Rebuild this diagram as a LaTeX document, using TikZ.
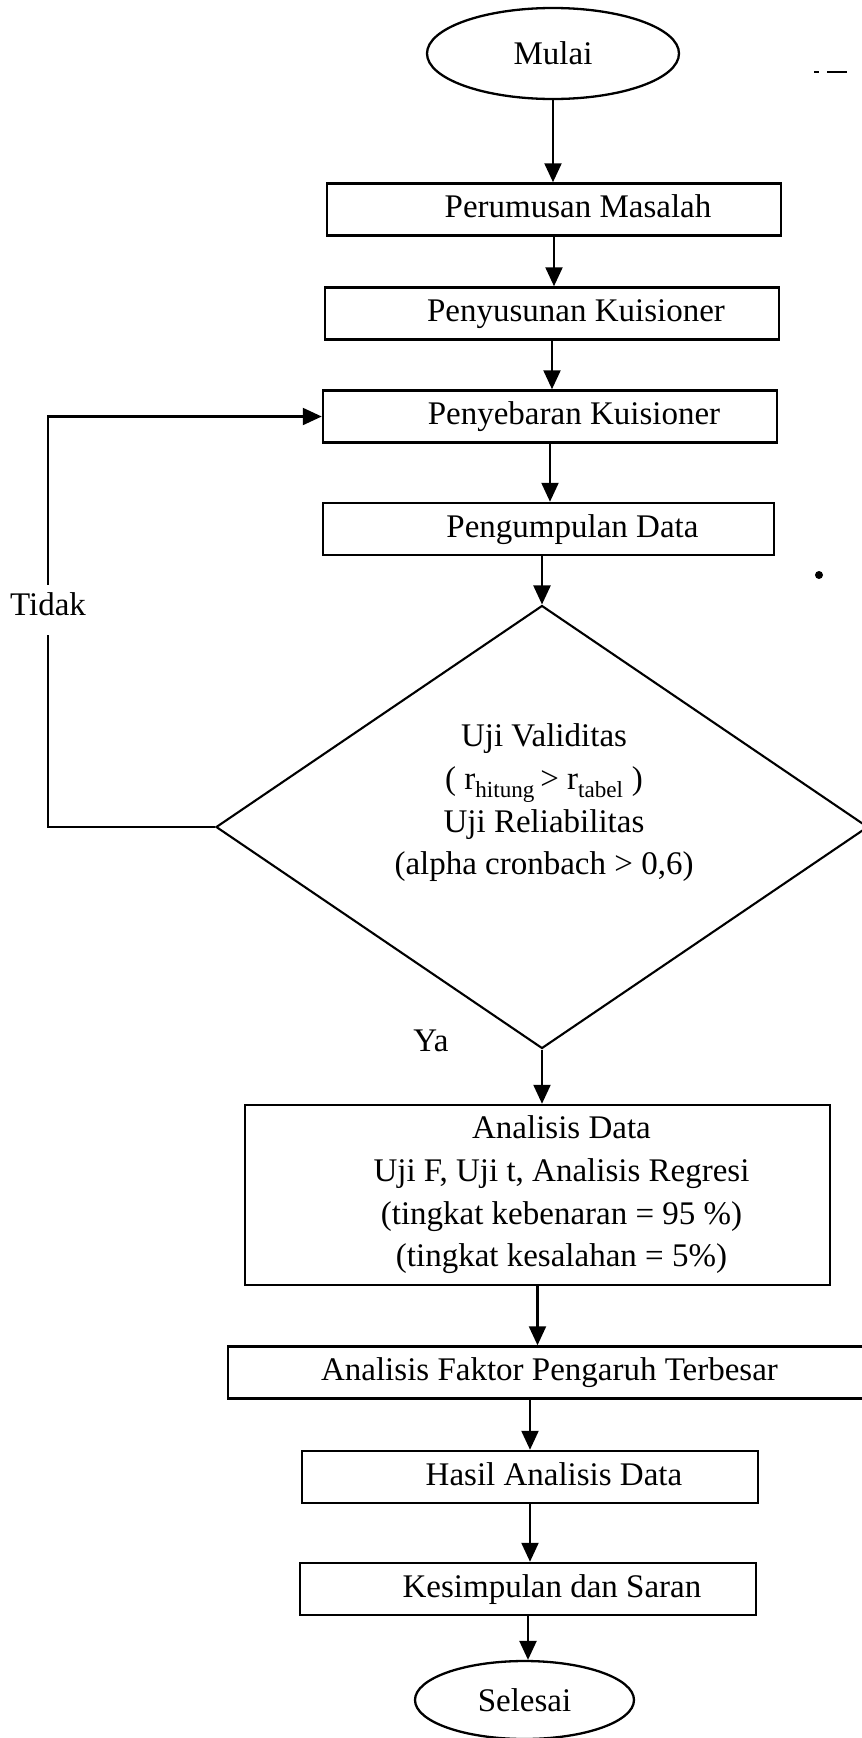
\documentclass[tikz,border=0pt]{standalone}
\usepackage{fontspec}
\setmainfont{Liberation Serif}
\usetikzlibrary{shapes.geometric,arrows.meta}
\newcommand{\pad}{\hspace*{48pt}}
\begin{document}
\begin{tikzpicture}[x=1pt,y=-1pt,
  every node/.style={font=\fontsize{33}{42.7}\selectfont},
  frame/.style={draw,rectangle,line width=2.5pt,inner sep=0pt},
  box/.style={frame,minimum height=52pt,text height=22pt,text depth=6pt},
  term/.style={draw,ellipse,line width=2.3pt,inner sep=0pt},
  flow/.style={line width=2.3pt,-{Triangle[length=19pt,width=17pt]}},
  plain/.style={line width=2.3pt}]
\useasboundingbox (0,0) rectangle (862,1738);

\node[term,minimum width=252pt,minimum height=91pt] (mulai) at (553,53.5) {Mulai};
\node[box,minimum width=454pt] (rumus) at (554,209.5) {\pad Perumusan Masalah};
\node[box,minimum width=454pt] (susun) at (552,313.5) {\pad Penyusunan Kuisioner};
\node[box,minimum width=454pt] (sebar) at (550,416.5) {\pad Penyebaran Kuisioner};
\node[box,minimum width=451pt] (kumpul) at (548.5,529) {\pad Pengumpulan Data};
\node[draw,diamond,line width=2.1pt,minimum width=652pt,minimum height=443pt,inner sep=0pt] (uji) at (542,827) {};
\node[align=center,inner sep=0pt] (ujitext) at (544,803) {Uji Validitas\\( r\textsubscript{hitung}\,> r\textsubscript{tabel} )\\Uji Reliabilitas\\(alpha cronbach > 0,6)};
\node[frame,minimum width=585pt,minimum height=180pt,align=center] (analisis) at (537.5,1195)
  {\pad Analisis Data\\\pad Uji F, Uji t, Analisis Regresi\\\pad (tingkat kebenaran = 95 \%)\\\pad (tingkat kesalahan = 5\%)};
\node[box,minimum width=643pt] (faktor) at (549.5,1372.5) {Analisis Faktor Pengaruh Terbesar};
\node[box,minimum width=456pt] (hasil) at (530,1477) {\pad Hasil Analisis Data};
\node[box,minimum width=456pt] (simpul) at (528,1589) {\pad Kesimpulan dan Saran};
\node[term,minimum width=219pt,minimum height=78pt] (selesai) at (524.5,1700) {Selesai};

\node[inner xsep=0pt,inner ysep=8pt,text height=22pt,text depth=12pt] (tidak) at (48,610) {Tidak};
\node[inner sep=0pt] (ya) at (431,1041) {Ya};

\draw[flow] (mulai.south) -- (mulai.south |- rumus.north);
\draw[flow] (rumus.south) -- (rumus.south |- susun.north);
\draw[flow] (susun.south) -- (susun.south |- sebar.north);
\draw[flow] (sebar.south) -- (sebar.south |- kumpul.north);
\draw[flow] (uji.north |- kumpul.south) -- (uji.north);
\draw[flow] (uji.south) -- (uji.south |- analisis.north);
\draw[flow] (analisis.south) -- (analisis.south |- faktor.north);
\draw[flow] (hasil.north |- faktor.south) -- (hasil.north);
\draw[flow] (hasil.south) -- (hasil.south |- simpul.north);
\draw[flow] (simpul.south) -- (simpul.south |- selesai.north);

\draw[plain] (uji.west) -- (uji.west -| tidak.south) -- (tidak.south);
\draw[flow] (tidak.north) -- (tidak.north |- sebar.west) -- (sebar.west);

\fill (819,575) circle (4pt);
\draw[line width=1.2pt,dash pattern=on 5pt off 8pt on 20pt] (814,72) -- (851,72);
\end{tikzpicture}
\end{document}
